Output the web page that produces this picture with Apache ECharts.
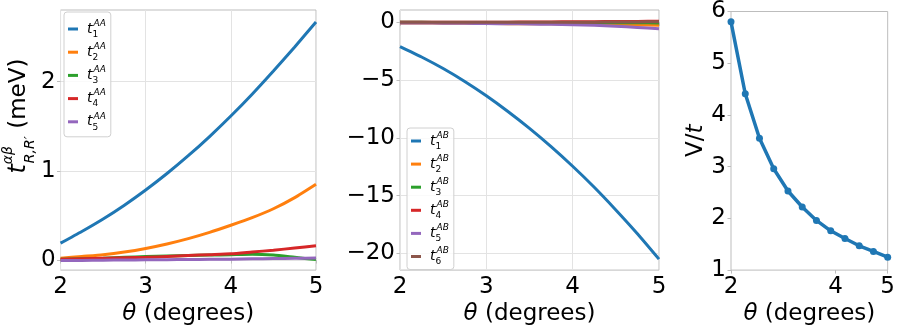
<!DOCTYPE html>
<html>
<head>
<meta charset="utf-8">
<script src="https://cdn.jsdelivr.net/npm/echarts@6/dist/echarts.min.js"></script>
<style>html,body{margin:0;padding:0;background:#fff}#c{width:898px;height:331px}</style>
</head>
<body>
<div id="c"></div>
<script>
// ---- data ----
const theta = [2.0, 2.25, 2.5, 2.75, 3.0, 3.25, 3.5, 3.75, 4.0, 4.25, 4.5, 4.75, 5.0];
const tAA1 = [0.19, 0.32, 0.46, 0.615, 0.785, 0.97, 1.17, 1.385, 1.615, 1.86, 2.12, 2.39, 2.67];
const tAA2 = [0.02, 0.04, 0.06, 0.09, 0.13, 0.18, 0.24, 0.31, 0.39, 0.475, 0.575, 0.70, 0.85];
const tAA3 = [0.01, 0.015, 0.02, 0.03, 0.04, 0.045, 0.05, 0.055, 0.06, 0.065, 0.055, 0.03, 0.005];
const tAA4 = [0.01, 0.015, 0.02, 0.025, 0.03, 0.04, 0.05, 0.06, 0.07, 0.09, 0.11, 0.135, 0.16];
const tAA5 = [-0.005, -0.004, -0.002, 0.0, 0.002, 0.004, 0.006, 0.008, 0.01, 0.013, 0.016, 0.019, 0.022];

const tAB1 = [-2.1, -3.0, -4.0, -5.12, -6.36, -7.72, -9.18, -10.76, -12.46, -14.28, -16.24, -18.3, -20.5];
const tAB2 = [-0.05, -0.06, -0.07, -0.08, -0.1, -0.11, -0.12, -0.13, -0.15, -0.17, -0.19, -0.22, -0.25];
const tAB3 = [0.0, 0.0, -0.01, -0.01, -0.01, -0.02, -0.02, -0.02, -0.03, -0.03, -0.04, -0.04, -0.05];
const tAB4 = [0.0, 0.0, 0.01, 0.01, 0.02, 0.02, 0.03, 0.04, 0.05, 0.06, 0.07, 0.08, 0.1];
const tAB5 = [-0.05, -0.06, -0.07, -0.08, -0.1, -0.12, -0.14, -0.17, -0.2, -0.26, -0.34, -0.44, -0.55];
const tAB6 = [0.0, 0.0, 0.0, 0.0, 0.0, 0.01, 0.01, 0.01, 0.02, 0.02, 0.03, 0.04, 0.05];

const thetaV = [2.0, 2.273, 2.545, 2.818, 3.091, 3.364, 3.636, 3.909, 4.182, 4.455, 4.727, 5.0];
const vOverT = [5.80, 4.41, 3.55, 2.96, 2.53, 2.22, 1.96, 1.76, 1.61, 1.47, 1.36, 1.25];

const yTicksAA = [0, 1, 2];
const yTicksAB = [-20, -15, -10, -5, 0];

const colors = ['#1f77b4', '#ff7f0e', '#2ca02c', '#d62728', '#9467bd', '#8c564b'];
const FONT = 'DejaVu Sans';
const FS = 23;

const seriesAA = [tAA1, tAA2, tAA3, tAA4, tAA5];
const seriesAB = [tAB1, tAB2, tAB3, tAB4, tAB5, tAB6];

function zip(xs, ys) { return xs.map((x, i) => [x, ys[i]]); }
function fmt(v) { return String(v).replace('-', '\u2212'); }

const legendRich = {
  t: { fontFamily: FONT, fontStyle: 'italic', fontSize: 14, lineHeight: 20, color: '#000', padding: [0, 0, 0, 4] },
  sub: { fontFamily: FONT, fontSize: 9, lineHeight: 9, verticalAlign: 'bottom', width: 1, align: 'left', color: '#000' },
  sup: { fontFamily: FONT, fontStyle: 'italic', fontSize: 9, lineHeight: 9, verticalAlign: 'top', align: 'left', color: '#000' }
};
function legendFmt(name) {
  const sup = name.slice(0, 2), idx = name.slice(2);
  return '{t|t}{sub|' + idx + '}{sup|' + sup + '}';
}

const xNameRich = {
  i: { fontFamily: FONT, fontStyle: 'italic', fontSize: FS, color: '#000' },
  n: { fontFamily: FONT, fontSize: FS, color: '#000' }
};

const gridCommon = { show: true, borderColor: '#bdbdbd', borderWidth: 1, backgroundColor: 'transparent', containLabel: false };

function xAxis(gi, interval, showSplit) {
  return {
    type: 'value', gridIndex: gi, min: 2, max: 5, interval: interval,
    name: '{i|θ}{n| (degrees)}', nameLocation: 'middle', nameGap: 26,
    nameTextStyle: { rich: xNameRich },
    axisLine: { show: false },
    axisTick: { show: true, length: 3.5, lineStyle: { color: '#bdbdbd' } },
    axisLabel: { fontFamily: FONT, fontSize: FS, color: '#000', margin: 5, formatter: fmt },
    splitLine: { show: showSplit, lineStyle: { color: '#e3e3e3', width: 1 } }
  };
}

const series = [];
seriesAA.forEach((d, i) => series.push({
  name: 'AA' + (i + 1), type: 'line', xAxisIndex: 0, yAxisIndex: 0,
  data: zip(theta, d), showSymbol: false, smooth: 0.2,
  lineStyle: { width: 3, color: colors[i] }, itemStyle: { color: colors[i] }
}));
seriesAB.forEach((d, i) => series.push({
  name: 'AB' + (i + 1), type: 'line', xAxisIndex: 1, yAxisIndex: 1,
  data: zip(theta, d), showSymbol: false, smooth: 0.2,
  lineStyle: { width: 3, color: colors[i] }, itemStyle: { color: colors[i] }
}));
series.push({
  name: 'V/t', type: 'line', xAxisIndex: 2, yAxisIndex: 2,
  data: zip(thetaV, vOverT), symbol: 'circle', symbolSize: 7, showSymbol: true,
  lineStyle: { width: 3.5, color: colors[0] }, itemStyle: { color: colors[0] }
});

const option = {
  animation: false,
  backgroundColor: '#fff',
  textStyle: { fontFamily: FONT },
  grid: [
    Object.assign({ left: 58, top: 10, width: 258, height: 266 }, gridCommon),
    Object.assign({ left: 400, top: 10, width: 259, height: 266 }, gridCommon),
    Object.assign({ left: 731, top: 9, width: 163, height: 270 }, gridCommon)
  ],
  legend: [
    {
      data: ['AA1', 'AA2', 'AA3', 'AA4', 'AA5'], orient: 'vertical', left: 64, top: 12,
      icon: 'rect', itemWidth: 10, itemHeight: 3, itemGap: 3.2,
      padding: [7, 5, 5, 4], backgroundColor: 'rgba(255,255,255,0.8)',
      borderColor: '#d0d0d0', borderWidth: 1, borderRadius: 3,
      formatter: legendFmt, textStyle: { rich: legendRich }, selectedMode: false
    },
    {
      data: ['AB1', 'AB2', 'AB3', 'AB4', 'AB5', 'AB6'], orient: 'vertical', left: 407, top: 128,
      icon: 'rect', itemWidth: 10, itemHeight: 3, itemGap: 3.1,
      padding: [3, 5, 3, 4], backgroundColor: 'rgba(255,255,255,0.8)',
      borderColor: '#d0d0d0', borderWidth: 1, borderRadius: 3,
      formatter: legendFmt, textStyle: { rich: legendRich }, selectedMode: false
    }
  ],
  xAxis: [xAxis(0, 1, true), xAxis(1, 1, true), xAxis(2, 2, false)],
  yAxis: [
    {
      type: 'value', gridIndex: 0, min: -0.113, max: 2.804,
      name: '{t|t}{sup|αβ}{sub|R,R′}{u| (meV)}', nameLocation: 'middle', nameGap: 15,
      nameTextStyle: {
        padding: [0, 0, 0, 48],
        rich: {
          t: { fontFamily: FONT, fontStyle: 'italic', fontSize: 24, lineHeight: 36, align: 'left', color: '#000' },
          sup: { fontFamily: FONT, fontStyle: 'italic', fontSize: 14, lineHeight: 8, verticalAlign: 'top', width: 1, align: 'left', color: '#000' },
          sub: { fontFamily: FONT, fontStyle: 'italic', fontSize: 14, lineHeight: 14, verticalAlign: 'bottom', align: 'left', color: '#000' },
          u: { fontFamily: FONT, fontSize: FS, lineHeight: 36, align: 'left', color: '#000' }
        }
      },
      axisLine: { show: false },
      axisTick: { show: true, length: 3.5, lineStyle: { color: '#bdbdbd' }, customValues: yTicksAA },
      axisLabel: { fontFamily: FONT, fontSize: FS, color: '#000', margin: 5, formatter: fmt, customValues: yTicksAA },
      splitLine: { show: true, lineStyle: { color: '#e3e3e3', width: 1 } }
    },
    {
      type: 'value', gridIndex: 1, min: -21.45, max: 1.07,
      axisLine: { show: false },
      axisTick: { show: true, length: 3.5, lineStyle: { color: '#bdbdbd' }, customValues: yTicksAB },
      axisLabel: { fontFamily: FONT, fontSize: FS, color: '#000', margin: 5, formatter: fmt, customValues: yTicksAB },
      splitLine: { show: true, lineStyle: { color: '#e3e3e3', width: 1 } }
    },
    {
      type: 'value', gridIndex: 2, min: 1, max: 6, interval: 1,
      name: '{n|V/}{i|t}', nameLocation: 'middle', nameGap: 19,
      nameTextStyle: { rich: xNameRich },
      axisLine: { show: false },
      axisTick: { show: true, length: 3.5, lineStyle: { color: '#bdbdbd' } },
      axisLabel: { fontFamily: FONT, fontSize: FS, color: '#000', margin: 5, formatter: fmt },
      splitLine: { show: false }
    }
  ],
  series: series
};

const chart = echarts.init(document.getElementById('c'), null, { renderer: 'canvas' });
chart.setOption(option);
</script>
</body>
</html>
